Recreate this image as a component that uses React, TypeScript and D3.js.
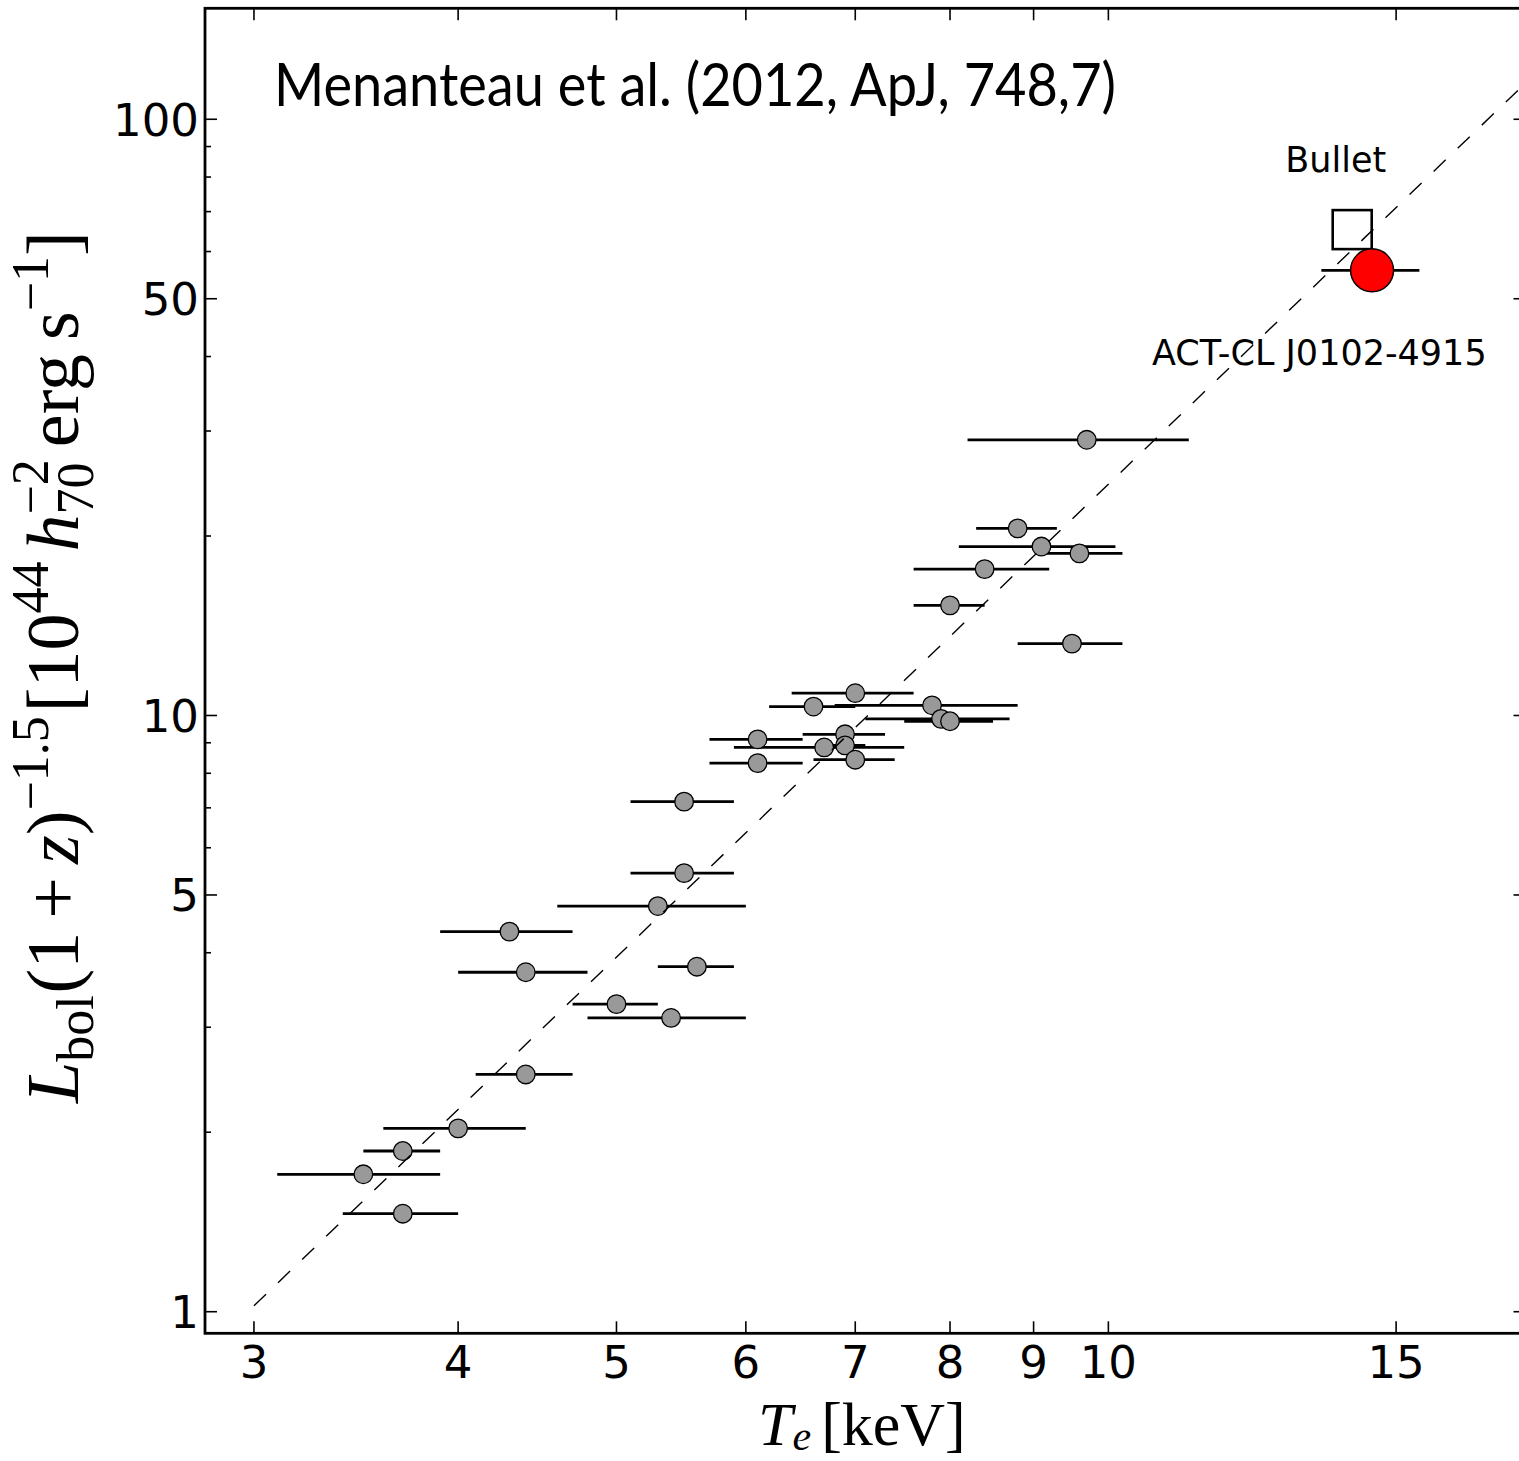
import React from 'react';
import * as d3 from 'd3';

// Cluster sample (gray points): temperature, lower/upper T error-bar ends, luminosity
const clusterT = [9.7, 8.8, 9.1, 9.6, 8.4, 8.0, 9.5, 7.0, 6.6, 7.8, 7.9, 8.0, 6.1, 6.9, 6.7, 6.9, 6.1, 7.0, 5.5, 5.5, 5.3, 5.6, 5.0, 5.4, 4.3, 4.4, 4.4, 4.0, 3.7, 3.5, 3.7];
const clusterTLow = [8.2, 8.3, 8.1, 9.1, 7.6, 7.6, 8.8, 6.4, 6.2, 6.8, 7.1, 7.5, 5.7, 6.5, 5.9, 6.7, 5.7, 6.6, 5.1, 5.1, 4.6, 5.3, 4.7, 4.8, 3.9, 4.0, 4.1, 3.6, 3.5, 3.1, 3.4];
const clusterTHigh = [11.2, 9.3, 10.1, 10.2, 9.2, 8.4, 10.2, 7.6, 7.0, 8.8, 8.7, 8.5, 6.5, 7.3, 7.5, 7.1, 6.5, 7.4, 5.9, 5.9, 6.0, 5.9, 5.3, 6.0, 4.7, 4.8, 4.7, 4.4, 3.9, 3.9, 4.0];
const clusterL = [29.0, 20.6, 19.2, 18.7, 17.6, 15.3, 13.2, 10.9, 10.35, 10.4, 9.87, 9.78, 9.12, 9.3, 8.84, 8.91, 8.32, 8.43, 7.17, 5.44, 4.79, 3.79, 3.28, 3.11, 4.34, 3.71, 2.5, 2.03, 1.86, 1.7, 1.46];

// Bullet cluster (open square)
const bulletT = [14.1];
const bulletL = [65.3];

// ACT-CL J0102-4915 (red circle)
const gordoT = [14.5];
const gordoTLow = [13.5];
const gordoTHigh = [15.5];
const gordoL = [55.8];

// L-T relation (dashed line) end points
const fitT = [3, 18];
const fitL = [1.023, 115];

// Axis ticks
const xTicks = [3, 4, 5, 6, 7, 8, 9, 10, 15];
const yMajor = [1, 5, 10, 50, 100];
const yMinor = [2, 3, 4, 6, 7, 8, 9, 20, 30, 40, 60, 70, 80, 90];

export default function App() {
  const W = 1519;
  const H = 1461;
  const left = 205;
  const right = 1525.5;
  const top = 8.3;
  const bottom = 1333.3;

  const x = d3.scaleLog().domain([2.8, 18]).range([left, right]);
  const y = d3.scaleLog().domain([0.92, 153.5]).range([bottom, top]);

  const line = d3
    .line<number>()
    .x((_, i) => x(fitT[i]))
    .y((_, i) => y(fitL[i]));

  const tickFont = 'DejaVu Sans';
  const majorLen = 12;
  const minorLen = 6;

  return (
    <svg
      width={W}
      height={H}
      viewBox={`0 0 ${W} ${H}`}
      style={{ position: 'absolute', left: 0, top: 0, background: '#fff' }}
    >
      <defs>
        <clipPath id="plotclip">
          <rect x={left} y={top} width={right - left} height={bottom - top} />
        </clipPath>
      </defs>
      <rect x={0} y={0} width={W} height={H} fill="#fff" />

      <g clipPath="url(#plotclip)">
        {/* error bars */}
        {clusterT.map((t, i) => (
          <line
            key={'eb' + i}
            x1={x(clusterTLow[i])}
            x2={x(clusterTHigh[i])}
            y1={y(clusterL[i])}
            y2={y(clusterL[i])}
            stroke="#000"
            strokeWidth={2.8}
          />
        ))}
        {/* markers */}
        {clusterT.map((t, i) => (
          <circle
            key={'pt' + i}
            cx={x(t)}
            cy={y(clusterL[i])}
            r={9.3}
            fill="#999999"
            stroke="#000"
            strokeWidth={1.3}
          />
        ))}
        {/* fit line */}
        <path
          d={line(fitT) || ''}
          fill="none"
          stroke="#000"
          strokeWidth={1.4}
          strokeDasharray="16.7 16.7"
        />
        {/* Bullet */}
        {bulletT.map((t, i) => (
          <rect
            key={'bu' + i}
            x={x(t) - 19.5}
            y={y(bulletL[i]) - 19.5}
            width={39}
            height={39}
            fill="none"
            stroke="#000"
            strokeWidth={2.6}
          />
        ))}
        {/* El Gordo */}
        {gordoT.map((t, i) => (
          <g key={'go' + i}>
            <line
              x1={x(gordoTLow[i])}
              x2={x(gordoTHigh[i])}
              y1={y(gordoL[i])}
              y2={y(gordoL[i])}
              stroke="#000"
              strokeWidth={2.8}
            />
            <circle cx={x(t)} cy={y(gordoL[i])} r={21.5} fill="#ff0000" stroke="#000" strokeWidth={1.4} />
          </g>
        ))}
      </g>

      {/* ticks */}
      <g stroke="#000" strokeWidth={1.6}>
        {xTicks.map((t) => (
          <g key={'xt' + t}>
            <line x1={x(t)} x2={x(t)} y1={bottom} y2={bottom - majorLen} />
            <line x1={x(t)} x2={x(t)} y1={top} y2={top + majorLen} />
          </g>
        ))}
        {yMajor.map((v) => (
          <g key={'ym' + v}>
            <line x1={left} x2={left + majorLen} y1={y(v)} y2={y(v)} />
            <line x1={right} x2={right - majorLen} y1={y(v)} y2={y(v)} />
          </g>
        ))}
        {yMinor.map((v) => (
          <g key={'yn' + v}>
            <line x1={left} x2={left + minorLen} y1={y(v)} y2={y(v)} />
            <line x1={right} x2={right - minorLen} y1={y(v)} y2={y(v)} />
          </g>
        ))}
      </g>

      {/* spines */}
      <rect
        x={left}
        y={top}
        width={right - left}
        height={bottom - top}
        fill="none"
        stroke="#000"
        strokeWidth={2.8}
      />

      {/* tick labels */}
      <g fontFamily={tickFont} fontSize={45} fill="#000">
        {xTicks.map((t) => (
          <text key={'xl' + t} x={x(t)} y={1378} textAnchor="middle">
            {String(t)}
          </text>
        ))}
        {yMajor.map((v) => (
          <text key={'yl' + v} x={199} y={y(v) + 16.4} textAnchor="end">
            {String(v)}
          </text>
        ))}
      </g>

      {/* title */}
      <text
        x={274}
        y={106}
        fontFamily="Lato"
        fontSize={60}
        textLength={842}
        lengthAdjust="spacingAndGlyphs"
        fill="#000"
      >
        Menanteau et al. (2012, ApJ, 748,7)
      </text>

      {/* annotations */}
      <text x={1335.7} y={172.3} fontFamily="DejaVu Sans" fontSize={35} textAnchor="middle" fill="#000">
        Bullet
      </text>
      <text x={1319.3} y={365} fontFamily="DejaVu Sans" fontSize={35} textAnchor="middle" fill="#000">
        ACT-CL J0102-4915
      </text>

      {/* x label */}
      <text x={758} y={1445} fontFamily="Liberation Serif" fontSize={62} fill="#000">
        <tspan fontStyle="italic">T</tspan>
        <tspan fontSize={42} dy={5} fontStyle="italic">e</tspan>
        <tspan dy={-5} dx={10}>[keV]</tspan>
      </text>

      {/* y label */}
      <text transform="translate(78,1103) rotate(-90)" fontFamily="Liberation Serif" fontSize={74} fill="#000">
        <tspan fontStyle="italic">L</tspan>
        <tspan fontSize={52} dy={15}>bol</tspan>
        <tspan dy={-15} dx={2}>(1</tspan>
        <tspan dx={13}>+</tspan>
        <tspan dx={13} fontStyle="italic">z</tspan>
        <tspan>)</tspan>
        <tspan fontSize={52} dy={-30}>−1.5</tspan>
        <tspan dy={30} dx={4}>[10</tspan>
        <tspan fontSize={52} dy={-30}>44</tspan>
        <tspan dy={30} dx={10} fontStyle="italic">h</tspan>
        <tspan fontSize={52} dy={15}>70</tspan>
        <tspan fontSize={52} dy={-45} dx={-52}>−2</tspan>
        <tspan dy={30} dx={12}>erg</tspan>
        <tspan dx={14}>s</tspan>
        <tspan fontSize={52} dy={-30}>−1</tspan>
        <tspan dy={30}>]</tspan>
      </text>
    </svg>
  );
}
